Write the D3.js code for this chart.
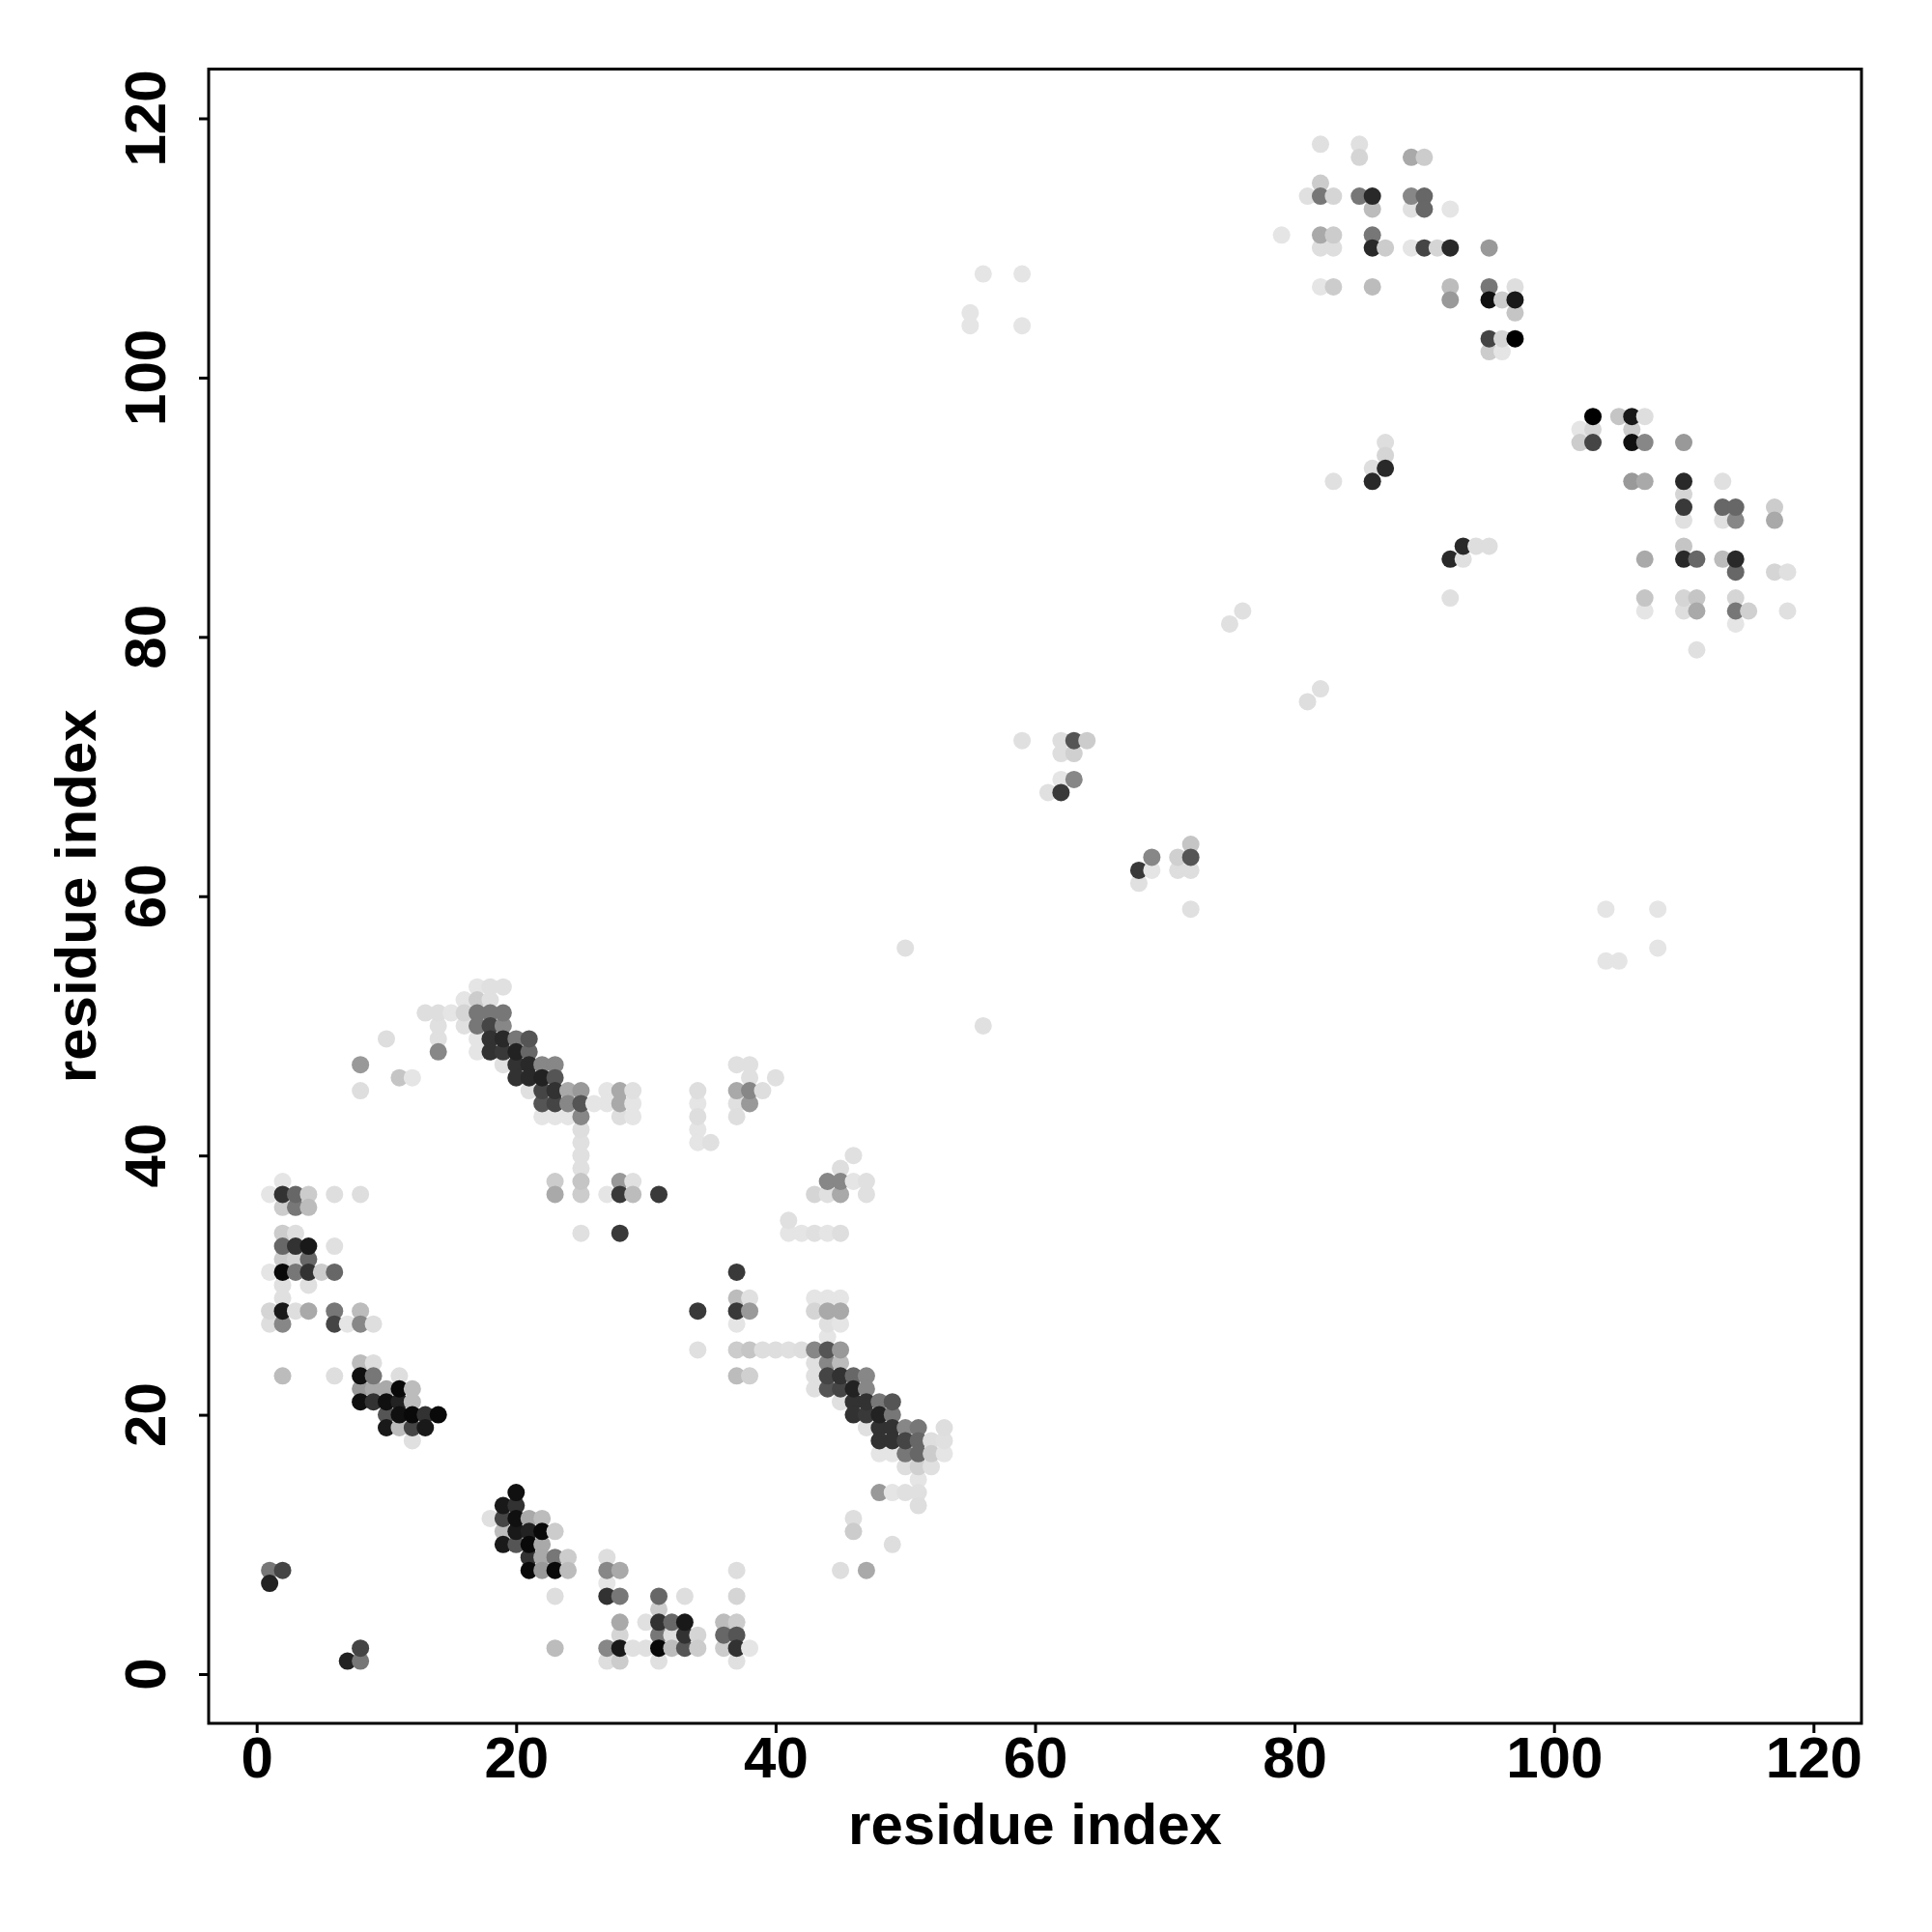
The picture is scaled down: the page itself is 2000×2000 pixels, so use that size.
<!DOCTYPE html>
<html><head><meta charset="utf-8">
<script src="https://cdn.jsdelivr.net/npm/d3@7"></script>
<style>body{margin:0;background:#fff}text{font-family:"Liberation Sans",Arial,Helvetica,sans-serif;font-weight:bold}</style>
</head><body>
<svg id="c" width="2000" height="2000"></svg>
<script>
// tick labels
const xTicks = [0, 20, 40, 60, 80, 100, 120];
const yTicks = [0, 20, 40, 60, 80, 100, 120];
const xTitle = "residue index";
const yTitle = "residue index";

// contacts: [residue i, residue j, strength 0..1]
const clusterLowA = [
 [1,7,0.85],[1,8,0.48],[2,8,0.70],[7,1,0.85],[8,1,0.48],[8,2,0.70]
];
const clusterB1 = [
 [2,38,0.00],
 [1,37,0.00],[2,37,0.78],[3,37,0.55],[4,37,0.11],[6,37,0.03],[8,37,0.03],
 [2,36,0.11],[3,36,0.48],[4,36,0.18],
 [2,34,0.11],[3,34,0.03],
 [2,33,0.55],[3,33,0.78],[4,33,0.89],[6,33,0.02],
 [2,32,0.11],[3,32,0.07],[4,32,0.55],
 [1,31,0.00],[2,31,0.96],[3,31,0.48],[4,31,0.78],[5,31,0.11],[6,31,0.55],
 [2,30,0.02],[4,30,0.02],[2,29,0.02],
 [1,28,0.07],[2,28,0.89],[3,28,0.03],[4,28,0.26],[6,28,0.48],[8,28,0.18],
 [1,27,0.03],[2,27,0.41],[6,27,0.70],[7,27,0.00],[8,27,0.41],[9,27,0.03]
];
const clusterB2 = [
 [8,24,0.18],[9,24,0.03],
 [2,23,0.18],[6,23,0.03],[8,23,0.93],[9,23,0.48],[11,23,0.03],
 [8,22,0.33],[9,22,0.26],[10,22,0.26],[11,22,0.96],[12,22,0.18],
 [8,21,0.93],[9,21,0.78],[10,21,0.93],[11,21,0.85],[12,21,0.18],
 [10,20,0.63],[11,20,0.93],[12,20,0.96],[13,20,0.78],[14,20,0.96],
 [10,19,0.89],[11,19,0.18],[12,19,0.70],[13,19,0.89],
 [12,18,0.02]
];
const clusterB3 = [
 [20,14,0.93],[19,13,0.89],[20,13,0.78],
 [18,12,0.02],[19,12,0.70],[20,12,0.93],[21,12,0.26],[22,12,0.18],
 [19,11,0.18],[20,11,0.89],[21,11,0.85],[22,11,0.96],[23,11,0.11],
 [19,10,0.89],[20,10,0.63],[21,10,0.96],[22,10,0.26],
 [21,9,0.78],[22,9,0.26],[23,9,0.48],[24,9,0.11],
 [21,8,0.96],[22,8,0.33],[23,8,0.96],[24,8,0.18],
 [23,6,0.03],[23,2,0.18]
];
const clusterB4 = [
 [27,9,0.03],[27,8,0.41],[27,7,0.00],[27,6,0.78],[27,2,0.41],[27,1,0.03],
 [28,8,0.26],[28,6,0.48],[28,4,0.26],[28,3,0.07],[28,2,0.89],[28,1,0.11],
 [29,2,0.02],[30,4,0.02],[30,2,0.02],
 [31,6,0.55],[31,5,0.11],[31,4,0.78],[31,3,0.48],[31,2,0.96],[31,1,0.02],
 [32,4,0.55],[32,3,0.03],[32,2,0.18],
 [33,6,0.03],[33,4,0.89],[33,3,0.78],[33,2,0.63],
 [34,3,0.07],[34,2,0.11],
 [36,4,0.18],[36,3,0.55],[36,2,0.11],
 [37,8,0.03],[37,6,0.07],[37,4,0.11],[37,3,0.63],[37,2,0.78],[37,1,0.02],
 [38,2,0.00]
];
const clusterB5 = [
 [34,28,0.75],[37,28,0.75],[38,28,0.33],[43,28,0.07],[44,28,0.26],[45,28,0.26],
 [37,29,0.18],[38,29,0.02],[43,29,0.00],[44,29,0.00],[45,29,0.00],
 [37,31,0.75],
 [37,27,0.00],[44,27,0.02],[45,27,0.00],[44,26,0.00],
 [34,25,0.02],[37,25,0.11],[38,25,0.14],[39,25,0.03],[40,25,0.03],[41,25,0.02],[42,25,0.03],[43,25,0.41],[44,25,0.63],[45,25,0.33],
 [43,24,0.02],[44,24,0.41],[45,24,0.18],
 [37,23,0.18],[38,23,0.09],[43,23,0.02],[44,23,0.70],[45,23,0.78],[46,23,0.55],[47,23,0.41],
 [43,22,0.02],[44,22,0.63],[45,22,0.70],[46,22,0.85],[47,22,0.41],
 [45,21,0.02],[46,21,0.78],[47,21,0.78],[48,21,0.48],[49,21,0.63],
 [46,20,0.78],[47,20,0.75],[48,20,0.85],[49,20,0.48],
 [47,19,0.02],[48,19,0.78],[49,19,0.78],[50,19,0.41],[51,19,0.48],[53,19,0.03],
 [48,18,0.78],[49,18,0.78],[50,18,0.70],[51,18,0.55],[52,18,0.03],[53,18,0.02],
 [48,17,0.00],[49,17,0.00],[50,17,0.48],[51,17,0.55],[52,17,0.11],[53,17,0.00],
 [50,16,0.03],[51,16,0.09],[52,16,0.02],[51,15,0.00],
 [48,14,0.33],[49,14,0.00],[50,14,0.02],[51,14,0.02],[51,13,0.03],
 [46,12,0.03],[46,11,0.11],[49,10,0.03],[45,8,0.03],[47,8,0.26]
];
const clusterB6 = [
 [17,53,0.00],[18,53,0.02],[19,53,0.02],
 [16,52,0.00],[17,52,0.11],[18,52,0.02],
 [13,51,0.03],[14,51,0.03],[15,51,0.00],[16,51,0.07],[17,51,0.48],[18,51,0.48],[19,51,0.48],
 [14,50,0.02],[16,50,0.02],[17,50,0.48],[18,50,0.70],[19,50,0.41],
 [10,49,0.03],[14,49,0.02],[17,49,0.00],[18,49,0.78],[19,49,0.82],[20,49,0.48],[21,49,0.63],
 [14,48,0.41],[17,48,0.00],[18,48,0.78],[19,48,0.75],[20,48,0.85],[21,48,0.55],
 [8,47,0.33],[19,47,0.02],[20,47,0.78],[21,47,0.82],[22,47,0.41],[23,47,0.41],
 [11,46,0.14],[12,46,0.00],[20,46,0.78],[21,46,0.82],[22,46,0.85],[23,46,0.63],
 [8,45,0.03],[21,45,0.02],[22,45,0.70],[23,45,0.78],[24,45,0.26],[25,45,0.33],[27,45,0.00],[28,45,0.26],[29,45,0.02],
 [22,44,0.63],[23,44,0.70],[24,44,0.41],[25,44,0.63],[26,44,0.00],[27,44,0.00],[28,44,0.26],[29,44,0.00],
 [22,43,0.00],[23,43,0.00],[24,43,0.00],[25,43,0.41],[28,43,0.03],[29,43,0.00],
 [25,42,0.03],[25,41,0.02],[25,40,0.02],[25,39,0.02],
 [23,38,0.11],[25,38,0.14],[28,38,0.33],[29,38,0.02],
 [23,37,0.26],[25,37,0.11],[27,37,0.00],[28,37,0.75],[29,37,0.18],[31,37,0.75],
 [25,34,0.02],[28,34,0.75]
];
const clusterB7 = [
 [34,45,0.03],[34,44,0.00],[34,43,0.03],[34,42,0.00],[34,41,0.00],[35,41,0.02],
 [37,47,0.02],[37,45,0.26],[37,44,0.02],[37,43,0.03],
 [38,47,0.02],[38,46,0.02],[38,45,0.41],[38,44,0.33],
 [39,45,0.03],[40,46,0.02],
 [41,35,0.02],[41,34,0.00],[42,34,0.00],[43,34,0.02],[44,34,0.00],[45,34,0.03],
 [43,37,0.07],[44,38,0.41],[44,37,0.02],[45,39,0.03],[45,38,0.41],[45,37,0.26],
 [46,40,0.02],[46,38,0.00],[47,38,0.02],[47,37,0.02]
];
const clusterMid = [
 [50,56,0.02],[56,50,0.02],
 [59,72,0.02],[62,72,0.03],[63,72,0.63],[64,72,0.11],[62,71,0.03],[63,71,0.09],
 [62,69,0.00],[63,69,0.41],[61,68,0.02],[62,68,0.75],
 [68,62,0.75],[69,63,0.41],[69,62,0.00],[68,61,0.02],[71,63,0.09],[72,64,0.14],
 [72,63,0.63],[71,62,0.03],[72,62,0.03],[72,59,0.02],
 [75,81,0.02],[76,82,0.02],[81,75,0.03],[82,76,0.02],
 [104,59,0.00],[108,59,0.00],[108,56,0.00],[104,55,0.00],[105,55,0.00]
];
const clusterUpA = [
 [55,105,0.00],[55,104,0.00],[56,108,0.00],[59,108,0.00],[59,104,0.00],
 [83,92,0.02],[86,92,0.82],[86,93,0.03],[87,93,0.82],[87,94,0.07],[87,95,0.03],
 [93,87,0.82],[94,87,0.03],[95,87,0.03],[92,86,0.82],[93,86,0.02],[92,83,0.02]
];
const clusterUpB = [
 [82,118,0.02],[85,118,0.02],[85,117,0.07],[89,117,0.26],[90,117,0.11],
 [82,115,0.11],[81,114,0.02],[82,114,0.48],[83,114,0.07],[85,114,0.48],[86,114,0.82],[86,113,0.18],
 [89,114,0.41],[90,114,0.55],[89,113,0.02],[90,113,0.55],[92,113,0.00],
 [79,111,0.00],[82,111,0.26],[83,111,0.11],[82,110,0.03],[83,110,0.03],[86,111,0.48],[86,110,0.82],
 [87,110,0.11],[89,110,0.00],[90,110,0.70],[91,110,0.07],[92,110,0.82],[95,110,0.33],
 [82,107,0.00],[83,107,0.11],[86,107,0.18],[92,107,0.18],[92,106,0.33],[95,107,0.48],[95,106,0.93],
 [96,106,0.11],[97,107,0.03],[97,106,0.89],[97,105,0.14],
 [95,103,0.70],[96,103,0.07],[97,103,1.00],[95,102,0.11],[96,102,0.00]
];
const clusterUpC = [
 [103,97,1.00],[105,97,0.14],[106,97,0.89],[107,97,0.03],
 [102,96,0.00],[103,96,0.07],[106,96,0.11],
 [102,95,0.11],[103,95,0.70],[106,95,0.93],[107,95,0.41],[110,95,0.33],
 [106,92,0.33],[107,92,0.26],[110,92,0.82],[113,92,0.02],
 [110,91,0.07],[110,90,0.75],[110,89,0.02],[113,90,0.55],[114,90,0.55],[113,89,0.02],[114,89,0.41],
 [117,90,0.11],[117,89,0.26],
 [107,86,0.26],[110,87,0.14],[110,86,0.82],[111,86,0.55],[113,86,0.18],[114,86,0.82],[114,85,0.55],
 [117,85,0.07],[118,85,0.02],
 [107,83,0.14],[107,82,0.00],[110,83,0.07],[111,83,0.14],[110,82,0.03],[111,82,0.26],
 [114,83,0.07],[114,82,0.48],[115,82,0.09],[114,81,0.00],[118,82,0.02],[111,79,0.02]
];

const contacts = [].concat(clusterLowA, clusterB1, clusterB2, clusterB3, clusterB4, clusterB5,
  clusterB6, clusterB7, clusterMid, clusterUpA, clusterUpB, clusterUpC)
  .map(d => ({i: d[0], j: d[1], s: d[2]}))
  .sort((a, b) => a.i - b.i || a.s - b.s);

const svg = d3.select("#c");
const L = 216, R = 1927, T = 71.5, B = 1784;
const x = d3.scaleLinear().domain([-3.7, 123.7]).range([L, R]);
const y = d3.scaleLinear().domain([-3.8, 123.8]).range([B, T]);
const shade = d3.scaleLinear().domain([0, 1]).range(["#e5e5e5", "#000000"]);

svg.append("rect").attr("width", 2000).attr("height", 2000).attr("fill", "#fff");

svg.append("g").selectAll("circle").data(contacts).join("circle")
  .attr("cx", d => x(d.i)).attr("cy", d => y(d.j)).attr("r", 9)
  .attr("fill", d => shade(d.s));

// box
svg.append("rect").attr("x", L).attr("y", T).attr("width", R - L).attr("height", B - T)
  .attr("fill", "none").attr("stroke", "#000").attr("stroke-width", 3);

// x axis
const gx = svg.append("g").attr("transform", `translate(0,${B})`)
  .call(d3.axisBottom(x).tickValues(xTicks).tickSize(10).tickSizeOuter(0).tickPadding(3));
gx.select(".domain").remove();
gx.selectAll(".tick line").attr("stroke-width", 3);
gx.selectAll(".tick text").attr("font-size", 60).attr("font-family", null).attr("fill", "#000");

// y axis
const gy = svg.append("g").attr("transform", `translate(${L},0)`)
  .call(d3.axisLeft(y).tickValues(yTicks).tickSize(10).tickSizeOuter(0).tickFormat(""));
gy.select(".domain").remove();
gy.selectAll(".tick line").attr("stroke-width", 3);
svg.append("g").selectAll("text").data(yTicks).join("text")
  .attr("transform", d => `translate(171,${y(d)}) rotate(-90)`)
  .attr("text-anchor", "middle").attr("font-size", 60).attr("fill", "#000")
  .text(d => d);

// titles
svg.append("text").attr("x", (L + R) / 2).attr("y", 1909).attr("text-anchor", "middle")
  .attr("font-size", 60).text(xTitle);
svg.append("text").attr("transform", `translate(99,${(T + B) / 2}) rotate(-90)`)
  .attr("text-anchor", "middle").attr("font-size", 60).text(yTitle);
</script>
</body></html>
